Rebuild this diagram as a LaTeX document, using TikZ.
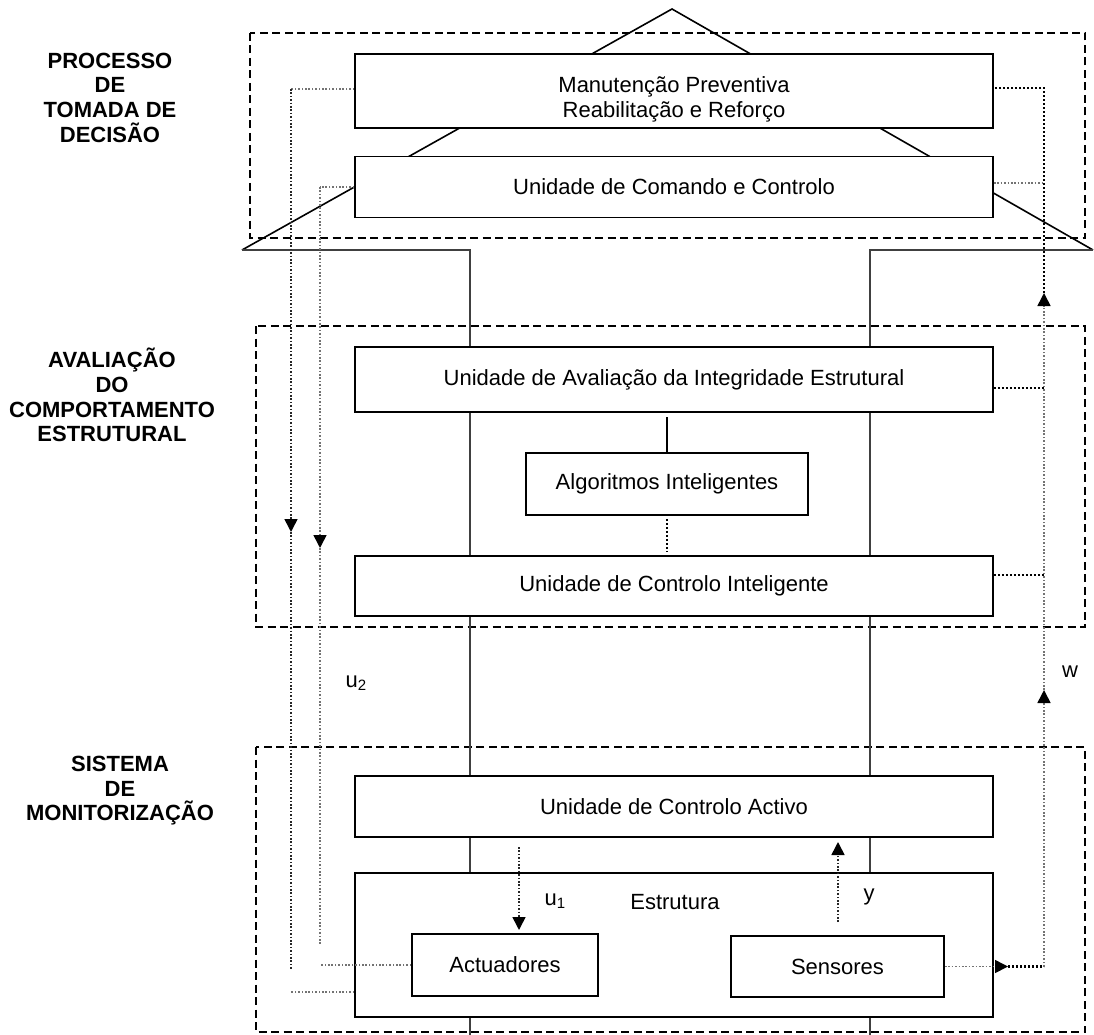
\documentclass[tikz,border=0pt]{standalone}
\usepackage{fontspec}
\setmainfont{Liberation Sans}
\usetikzlibrary{arrows.meta}

\tikzset{
  frame/.style={draw=black, line width=1.4pt, dash pattern=on 8pt off 4.5pt},
  lbl/.style={font=\fontsize{22}{25}\selectfont, inner sep=0pt},
  blk/.style={draw=black, line width=1.8pt, fill=white, inner sep=0pt,
              font=\fontsize{22}{25}\selectfont},
  side/.style={font=\fontsize{22}{24.7}\selectfont\bfseries, align=center, inner sep=0pt},
  roofline/.style={draw=black, line width=1.6pt},
  wall/.style={draw=black!75, line width=1.6pt},
  dk/.style={draw=black, line width=2.4pt, dash pattern=on 2.2pt off 1.8pt},
  dm/.style={draw=black!85, line width=1.6pt, dash pattern=on 1.6pt off 1.8pt},
  dg/.style={draw=black!55, line width=1.6pt, dash pattern=on 1.6pt off 1.8pt},
  tip/.style={-{Triangle[width=13pt,length=13pt,color=black]}},
}

\newcommand{\subidx}[1]{\raisebox{-0.3ex}{\fontsize{15}{15}\selectfont #1}}

\begin{document}
\begin{tikzpicture}[x=1pt, y=-1pt]
  \useasboundingbox (0,0) rectangle (1094,1035);

  % dashed frames of the three levels
  \draw[frame] (250,33) rectangle (1085,238);
  \draw[frame] (256,326) rectangle (1085,627);
  \draw[frame] (256,747) rectangle (1085,1032);

  % the building: roof and walls
  \draw[roofline] (242,250) -- (672,9) -- (1093,250);
  \draw[wall] (242,250) -- (470,250) -- (470,1035);
  \draw[wall] (1093,250) -- (870,250) -- (870,1035);

  % blocks
  \node[blk, minimum width=638pt, minimum height=74pt] (mp) at (674,91) {};
  \node[lbl, align=center] (mptxt) at (674,99)
       {Manutenção Preventiva\\Reabilitação e Reforço};
  \node[blk, minimum width=638pt, minimum height=61pt] (cc) at (674,187)
       {Unidade de Comando e Controlo};
  \node[blk, minimum width=638pt, minimum height=65pt] (uaie) at (674,379.5)
       {Unidade de Avaliação da Integridade Estrutural};
  \node[blk, minimum width=282pt, minimum height=62pt] (alg) at (667,484)
       {Algoritmos Inteligentes};
  \node[blk, minimum width=638pt, minimum height=60pt] (uci) at (674,586)
       {Unidade de Controlo Inteligente};
  \node[blk, minimum width=638pt, minimum height=61pt] (uca) at (674,806.5)
       {Unidade de Controlo Activo};
  \node[blk, minimum width=638pt, minimum height=144pt] (est) at (674,945) {};
  \node[lbl] (esttxt) at (675,902) {Estrutura};
  \node[blk, minimum width=186pt, minimum height=62pt] (act) at (505,965) {Actuadores};
  \node[blk, minimum width=213pt, minimum height=61pt] (sen) at (837.5,966.5) {Sensores};

  % links inside the assessment level
  \draw[draw=black, line width=2.4pt] (alg.north) -- ++(0,-35);
  \draw[dk] ([yshift=-3pt]alg.south) -- ([yshift=3pt]uci.north -| alg.south);

  % commands going down on the left
  \coordinate (l1) at (291,89);
  \coordinate (l1a) at (291,532);
  \coordinate (l1b) at (291,969);
  \coordinate (l1c) at (291,992);
  \draw[dg] ([yshift=2pt]mp.west) -- (l1);
  \draw[dm, tip] (l1) -- (l1a);
  \draw[dm] (l1a) -- (l1b);
  \draw[dg] (est.west |- l1c) -- (l1c);

  \coordinate (l2) at (320,187);
  \coordinate (l2a) at (320,548);
  \coordinate (l2b) at (320,944);
  \draw[dg] (cc.west) -- (l2);
  \draw[dg, tip] (l2) -- (l2a);
  \draw[dg] (l2a) -- (l2b);
  \draw[dg] (act.west) -- (act.west -| l2);

  % active control loop
  \coordinate (u1s) at (519,847);
  \coordinate (u1e) at (519,930);
  \draw[dm, tip] (u1s) -- (u1e);
  \coordinate (ys) at (838,922);
  \coordinate (ye) at (838,842);
  \draw[dm, tip] (ys) -- (ye);

  % measurements going up on the right
  \coordinate (rt) at (1008,966.5);
  \coordinate (rc) at (1044,966.5);
  \coordinate (rw) at (1044,690);
  \coordinate (rup) at (1044,293);
  \draw[dg, tip] (sen.east) -- (rt);
  \draw[dk] (rt) -- (rc);
  \draw[dg, tip] (rc) -- (rw);
  \draw[dg, tip] (rw) -- (rup);
  \draw[dk] (rup) |- ([yshift=3pt]mp.east);
  \draw[dg] ([yshift=4pt]cc.east) -- ([yshift=4pt]cc.east -| rc);
  \draw[dk] ([yshift=-8.5pt]uaie.east) -- ([yshift=-8.5pt]uaie.east -| rc);
  \draw[dk] ([yshift=11pt]uci.east) -- ([yshift=11pt]uci.east -| rc);

  % signal names
  \node[lbl] (u2lab) at (356,683) {u\subidx{2}};
  \node[lbl] (u1lab) at (555,901) {u\subidx{1}};
  \node[lbl] (ylab) at (869,897) {y};
  \node[lbl] (wlab) at (1070,672) {w};

  % level names
  \node[side, anchor=north] (lvl1) at (110,52.5) {PROCESSO\\DE\\TOMADA DE\\DECISÃO};
  \node[side, anchor=north] (lvl2) at (112,348) {AVALIAÇÃO\\DO\\COMPORTAMENTO\\ESTRUTURAL};
  \node[side, anchor=north] (lvl3) at (120,756) {SISTEMA\\DE\\MONITORIZAÇÃO};
\end{tikzpicture}
\end{document}
